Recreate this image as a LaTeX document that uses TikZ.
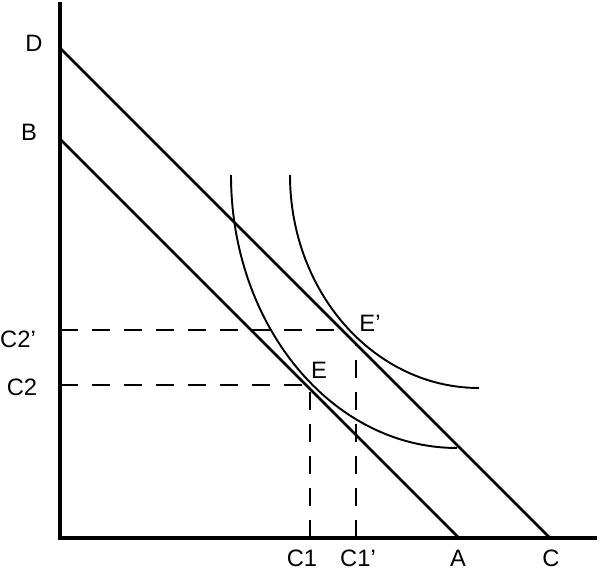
\documentclass[tikz,border=0pt]{standalone}
\usepackage{fontspec}
\setmainfont{Liberation Sans}
\usepackage{tikz}

\begin{document}
\begin{tikzpicture}[
    every node/.style={inner sep=0pt, font=\fontsize{13.5}{15}\selectfont},
    axis/.style={line width=2.2pt},
    budget/.style={line width=1.45pt},
    indiff/.style={line width=1.1pt},
    guide/.style={line width=0.75pt, dash pattern=on 0.36cm off 0.28cm}
]
\useasboundingbox (-1.2,-0.62) rectangle (10.8,10.76);

\coordinate (O) at (0,0);
\coordinate (ytop) at (0,10.72);
\coordinate (xend) at (10.74,0);
\coordinate (D) at (0,9.8);
\coordinate (C) at (9.8,0);
\coordinate (B) at (0,7.98);
\coordinate (A) at (7.98,0);
\coordinate (y2) at (0,3.06);
\coordinate (y2p) at (0,4.16);
\coordinate (x1) at (5.0,0);
\coordinate (x1p) at (5.92,0);
\coordinate (Eh) at (4.92,3.06);
\coordinate (Ev) at (5.0,2.98);
\coordinate (Eph) at (5.64,4.16);
\coordinate (Epv) at (5.92,3.88);
\coordinate (u1) at (3.42,7.26);
\coordinate (u2) at (4.6,7.26);

\node (lD) at (-0.52,9.9) {D};
\node (lB) at (-0.62,8.12) {B};
\node (lC2p) at (-0.84,3.98) {C2'};
\node (lC2) at (-0.76,3.02) {C2};
\node (lC1) at (4.84,-0.4) {C1};
\node (lC1p) at (5.96,-0.4) {C1'};
\node (lA) at (7.96,-0.4) {A};
\node (lC) at (9.82,-0.4) {C};
\node (lE) at (5.18,3.36) {E};
\node (lEp) at (6.2,4.3) {E'};

\draw[axis] (ytop) -- (O) -- (xend);
\draw[budget] (D) -- (C);
\draw[budget] (B) -- (A);

\draw[guide] (y2) -- (Eh);
\draw[guide] (x1) -- (Ev);
\draw[guide] (y2p) -- (Eph);
\draw[guide] (x1p) -- (Epv);

% indifference curves
\draw[indiff] (u1) arc[start angle=180, end angle=270, x radius=4.52, y radius=5.46];
\draw[indiff] (u2) arc[start angle=180, end angle=270, x radius=3.78, y radius=4.26];
\end{tikzpicture}
\end{document}
